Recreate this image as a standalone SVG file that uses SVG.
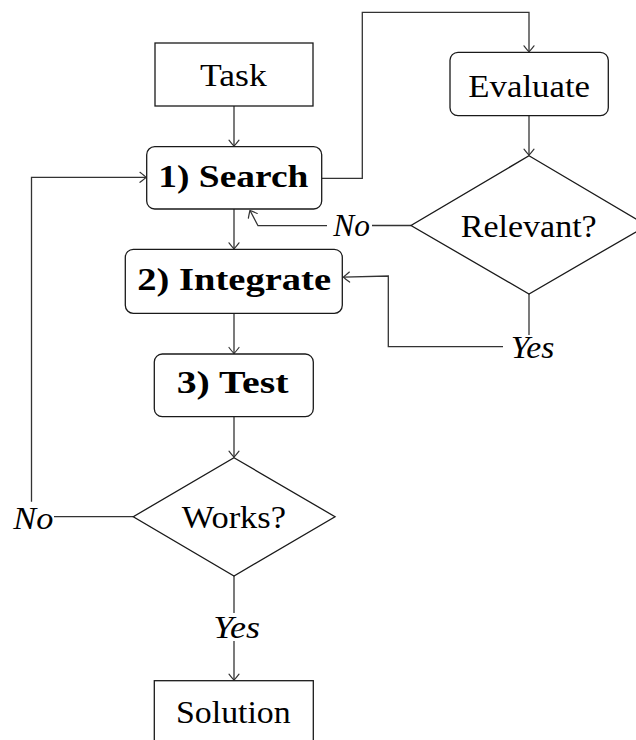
<svg xmlns="http://www.w3.org/2000/svg" width="636" height="740" viewBox="0 0 636 740">
  <style>
    .box { fill: #ffffff; stroke: #1a1a1a; stroke-width: 1.3; }
    .edge { fill: none; stroke: #333333; stroke-width: 1.3; }
    .t { font-family: "Liberation Serif", "DejaVu Serif", serif; font-size: 32px; fill: #000000; }
    .b { font-weight: bold; }
    .i { font-style: italic; }
  </style>
  <defs>
    <marker id="arr" markerUnits="userSpaceOnUse" markerWidth="14" markerHeight="14" refX="0" refY="0" viewBox="-8 -7 10 14" orient="auto" overflow="visible">
      <path d="M -6 -5 Q -1.5 -1.5 0 0 Q -1.5 1.5 -6 5" fill="none" stroke="#333333" stroke-width="1.2" stroke-linecap="round"/>
    </marker>
  </defs>
  <rect width="636" height="740" fill="#ffffff"/>

  <g id="connectors">
    <path class="edge" d="M 234 106 L 234 146.2" marker-end="url(#arr)"/>
    <path class="edge" d="M 321.7 178.3 L 362.3 178.3 L 362.3 12.3 L 529 12.3 L 529 51.8" marker-end="url(#arr)"/>
    <path class="edge" d="M 529 115.7 L 529 155.2" marker-end="url(#arr)"/>
    <path class="edge" d="M 411 225.5 L 372 225.5"/>
    <path class="edge" d="M 327 225.7 L 258 225.7 L 250 210.5" marker-end="url(#arr)"/>
    <path class="edge" d="M 529 294 L 529 335"/>
    <path class="edge" d="M 503 346.7 L 388.3 346.7 L 388.3 276 L 343.5 277.2" marker-end="url(#arr)"/>
    <path class="edge" d="M 234 209 L 234 248.8" marker-end="url(#arr)"/>
    <path class="edge" d="M 234 313.3 L 234 353.5" marker-end="url(#arr)"/>
    <path class="edge" d="M 234 416.7 L 234 457.2" marker-end="url(#arr)"/>
    <path class="edge" d="M 133.3 516.7 L 54 516.7"/>
    <path class="edge" d="M 31.5 501.7 L 31.5 177.3 L 146 177.3" marker-end="url(#arr)"/>
    <path class="edge" d="M 234 576 L 234 613"/>
    <path class="edge" d="M 234 641 L 234 680.2" marker-end="url(#arr)"/>
    <text class="t i" x="333.3" y="236" textLength="36.7" lengthAdjust="spacingAndGlyphs">No</text>
    <text class="t i" x="510.7" y="358.3" textLength="43.7" lengthAdjust="spacingAndGlyphs">Yes</text>
    <text class="t i" x="13.3" y="529" textLength="40" lengthAdjust="spacingAndGlyphs">No</text>
    <text class="t i" x="213.3" y="638.3" textLength="46.7" lengthAdjust="spacingAndGlyphs">Yes</text>
  </g>

  <g id="task">
    <rect class="box" x="155" y="43" width="158" height="63"/>
    <text class="t" x="200" y="86" textLength="66.7" lengthAdjust="spacingAndGlyphs">Task</text>
  </g>
  <g id="search">
    <rect class="box" x="146.7" y="146.7" width="175" height="62.3" rx="8" ry="8"/>
    <text class="t b" x="158.3" y="186.7" textLength="150" lengthAdjust="spacingAndGlyphs">1) Search</text>
  </g>
  <g id="evaluate">
    <rect class="box" x="450" y="52.3" width="158.3" height="63.4" rx="8" ry="8"/>
    <text class="t" x="468.3" y="96.7" textLength="121.7" lengthAdjust="spacingAndGlyphs">Evaluate</text>
  </g>
  <g id="relevant">
    <polygon class="box" points="529,155.7 647,225.5 529,294 411,225.5"/>
    <text class="t" x="460.7" y="237.3" textLength="136" lengthAdjust="spacingAndGlyphs">Relevant?</text>
  </g>
  <g id="integrate">
    <rect class="box" x="125.3" y="249.3" width="217" height="64" rx="8" ry="8"/>
    <text class="t b" x="137.3" y="290" textLength="193.7" lengthAdjust="spacingAndGlyphs">2) Integrate</text>
  </g>
  <g id="test">
    <rect class="box" x="154.3" y="354" width="159" height="62.7" rx="8" ry="8"/>
    <text class="t b" x="176.7" y="393.3" textLength="111.7" lengthAdjust="spacingAndGlyphs">3) Test</text>
  </g>
  <g id="works">
    <polygon class="box" points="234,457.7 335,516.7 234,576 133.3,516.7"/>
    <text class="t" x="181.7" y="528.3" textLength="104.3" lengthAdjust="spacingAndGlyphs">Works?</text>
  </g>
  <g id="solution">
    <rect class="box" x="154.3" y="680.7" width="159" height="64"/>
    <text class="t" x="176" y="723.3" textLength="114.7" lengthAdjust="spacingAndGlyphs">Solution</text>
  </g>
</svg>
